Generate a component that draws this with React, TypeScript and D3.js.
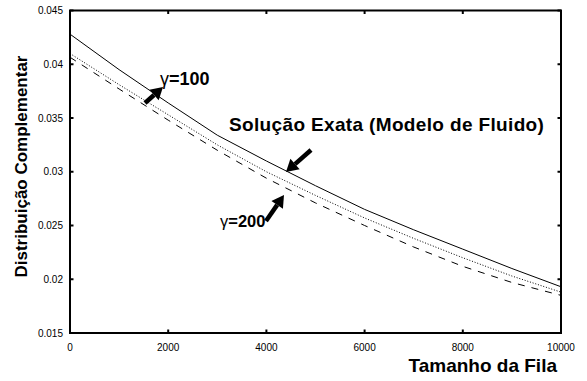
import React, { useRef, useEffect } from "react";
import * as d3 from "d3";

// queue size (x) and complementary distribution values
const filaSizes = [0, 1000, 2000, 3000, 4000, 5000, 6000, 7000, 8000, 9000, 10000];
const exata = [0.0428, 0.0395, 0.0364, 0.0334, 0.031, 0.0287, 0.0265, 0.0246, 0.0228, 0.021, 0.0193];
const gamma100 = [0.041, 0.0381, 0.0353, 0.0325, 0.03, 0.0278, 0.0257, 0.0238, 0.022, 0.0203, 0.0188];
const gamma200 = [0.04065, 0.0377, 0.0348, 0.032, 0.0294, 0.0271, 0.025, 0.023, 0.0212, 0.0197, 0.0185];

const xTicks = [0, 2000, 4000, 6000, 8000, 10000];
const yTicks = [0.015, 0.02, 0.025, 0.03, 0.035, 0.04, 0.045];

const font = "'Liberation Sans', Arial, Helvetica, sans-serif";

const App = () => {
  const ref = useRef<SVGSVGElement>(null);

  useEffect(() => {
    const svg = d3.select(ref.current);
    svg.selectAll("*").remove();

    const left = 70, right = 561, top = 10.5, bottom = 333;

    const x = d3.scaleLinear().domain([0, 10000]).range([left, right]);
    const y = d3.scaleLinear().domain([0.015, 0.045]).range([bottom, top]);

    const line = d3
      .line<number>()
      .x((_, i) => x(filaSizes[i]))
      .y((d) => y(d));

    const series = [
      { values: exata, dash: null },
      { values: gamma100, dash: "1,1.8" },
      { values: gamma200, dash: "7,7" },
    ];

    series.forEach((s) => {
      svg
        .append("path")
        .attr("d", line(s.values))
        .attr("fill", "none")
        .attr("stroke", "#000")
        .attr("stroke-width", 1)
        .attr("stroke-dasharray", s.dash);
    });

    // frame
    svg
      .append("rect")
      .attr("x", left)
      .attr("y", top)
      .attr("width", right - left)
      .attr("height", bottom - top)
      .attr("fill", "none")
      .attr("stroke", "#000")
      .attr("stroke-width", 2);

    const tk = 3.5;
    xTicks.forEach((t) => {
      svg.append("line").attr("x1", x(t)).attr("x2", x(t)).attr("y1", bottom).attr("y2", bottom - tk)
        .attr("stroke", "#000").attr("stroke-width", 2);
      svg.append("line").attr("x1", x(t)).attr("x2", x(t)).attr("y1", top).attr("y2", top + tk)
        .attr("stroke", "#000").attr("stroke-width", 2);
      svg.append("text").attr("x", x(t)).attr("y", bottom + 18).attr("text-anchor", "middle")
        .attr("font-family", font).attr("font-size", 10).text(t);
    });
    yTicks.forEach((t) => {
      svg.append("line").attr("x1", left).attr("x2", left + tk).attr("y1", y(t)).attr("y2", y(t))
        .attr("stroke", "#000").attr("stroke-width", 2);
      svg.append("line").attr("x1", right).attr("x2", right - tk).attr("y1", y(t)).attr("y2", y(t))
        .attr("stroke", "#000").attr("stroke-width", 2);
      svg.append("text").attr("x", left - 7).attr("y", y(t) + 3.5).attr("text-anchor", "end")
        .attr("font-family", font).attr("font-size", 10).text(String(t));
    });

    // axis titles
    svg.append("text").attr("x", 557).attr("y", 372).attr("text-anchor", "end")
      .attr("font-family", font).attr("font-weight", "bold").attr("font-size", 19)
      .text("Tamanho da Fila");
    svg.append("text")
      .attr("transform", `translate(27,166.5) rotate(-90)`)
      .attr("text-anchor", "middle")
      .attr("font-family", font).attr("font-weight", "bold").attr("font-size", 17)
      .text("Distribuição Complementar");

    // annotations
    const gammaLabel = (tx: number, ty: number, size: number, num: string) => {
      const t = svg.append("text").attr("x", tx).attr("y", ty).attr("font-family", font)
        .attr("font-weight", "bold").attr("font-size", size);
      t.append("tspan").attr("font-weight", "normal").text("γ");
      t.append("tspan").text("=" + num);
    };
    gammaLabel(160, 85, 18, "100");
    gammaLabel(220, 227, 16.5, "200");
    svg.append("text").attr("x", 229).attr("y", 131).attr("font-family", font)
      .attr("font-weight", "bold").attr("font-size", 19).attr("letter-spacing", 0.35)
      .text("Solução Exata (Modelo de Fluido)");

    const arrow = (x1: number, y1: number, x2: number, y2: number) => {
      const ang = Math.atan2(y2 - y1, x2 - x1);
      const hl = 12, hw = 7;
      const bx = x2 - hl * Math.cos(ang), by = y2 - hl * Math.sin(ang);
      svg.append("line").attr("x1", x1).attr("y1", y1).attr("x2", bx).attr("y2", by)
        .attr("stroke", "#000").attr("stroke-width", 4.5);
      const px = -Math.sin(ang) * hw, py = Math.cos(ang) * hw;
      svg.append("path")
        .attr("d", `M${x2},${y2}L${bx + px},${by + py}L${bx - px},${by - py}Z`)
        .attr("fill", "#000");
    };
    arrow(145, 103, 163, 87);
    arrow(311, 150, 286, 172);
    arrow(266, 221, 284, 195);
  }, []);

  return (
    <svg
      ref={ref}
      width={587}
      height={381}
      style={{ position: "absolute", left: 0, top: 0, background: "#fff" }}
    />
  );
};

export default App;
